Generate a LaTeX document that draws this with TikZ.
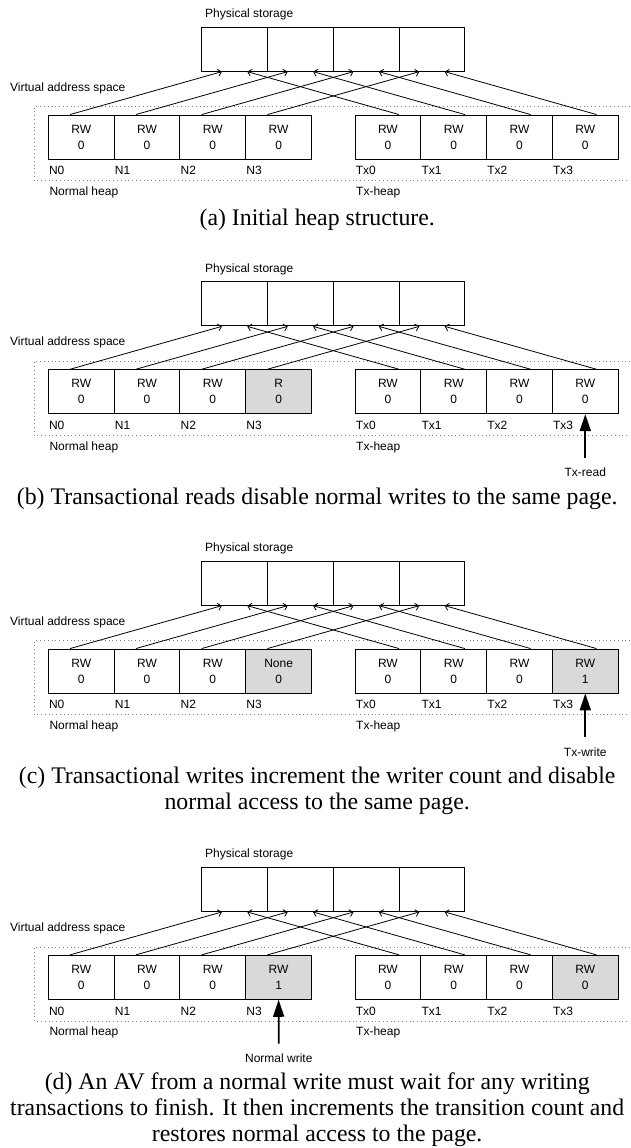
\documentclass[tikz,border=0pt]{standalone}
\usepackage{fontspec}
\setmainfont{Liberation Serif}
\newfontfamily\diagfont{Liberation Sans}
\usetikzlibrary{arrows.meta,calc}

\tikzset{
  heapcell/.style={draw, line width=0.9pt, minimum width=65.8pt, minimum height=44pt,
    inner sep=0pt, align=center, font={\diagfont\fontsize{12}{16}\selectfont}},
  tag/.style={inner sep=0pt, anchor=base west, font={\diagfont\fontsize{12}{14}\selectfont}},
  mapline/.style={line width=0.8pt, -{Straight Barb[length=3.5pt,width=7pt]}},
  accessarrow/.style={line width=1.8pt, -{Triangle[length=17pt,width=11pt]}},
  heapregion/.style={gray, line width=0.8pt, dash pattern=on 0.8pt off 3pt},
  figcaption/.style={inner sep=0pt, anchor=base, align=center, font={\fontsize{23.8}{26}\selectfont}},
}

% one heap picture: #1/#2/#3 = state, count, fill of N3; #4/#5/#6 = same for Tx3
\newcommand{\heappanel}[6]{%
  \foreach \i in {0,...,3}
    \node[heapcell] (p\i) at (234.6+65.8*\i,49.2) {};
  \node[tag] (phys) at (205,17.5) {Physical storage};
  \node[tag] (virt) at (10,91) {Virtual address space};
  \draw[heapregion] (630,106.7) -- (34.3,106.7) -- (34.3,180.7) -- (630,180.7);
  \foreach \i/\perm/\cnt/\cellfill in {0/RW/0/white,1/RW/0/white,2/RW/0/white,3/#1/#2/#3} {
    \node[heapcell, fill=\cellfill] (n\i) at (81.2+65.8*\i,137) {\perm\\\cnt};
    \node[tag] (nl\i) at ([shift={(1,15.3)}]n\i.south west) {N\i};
  }
  \foreach \i/\perm/\cnt/\cellfill in {0/RW/0/white,1/RW/0/white,2/RW/0/white,3/#4/#5/#6} {
    \node[heapcell, fill=\cellfill] (t\i) at (387.9+65.8*\i,137) {\perm\\\cnt};
    \node[tag] (tl\i) at ([shift={(1,15.3)}]t\i.south west) {Tx\i};
  }
  \node[tag] (nheap) at (49.3,195.5) {Normal heap};
  \node[tag] (theap) at (356,195.5) {Tx-heap};
  \foreach \i in {0,...,3} {
    \draw[mapline] ($(n\i.north west)!1/3!(n\i.north east)$) -- ($(p\i.south west)!0.31!(p\i.south east)$);
    \draw[mapline] ($(t\i.north west)!2/3!(t\i.north east)$) -- ($(p\i.south west)!0.69!(p\i.south east)$);
  }
}

\begin{document}
\begin{tikzpicture}[x=1pt, y=-1pt]
  \useasboundingbox (0,0) rectangle (630,1148);

  \heappanel{RW}{0}{white}{RW}{0}{white}
  \node[figcaption] (capa) at (317.2,225.3) {(a) Initial heap structure.};

  \begin{scope}[shift={(0,254.7)}]
    \heappanel{R}{0}{black!15}{RW}{0}{white}
    \node[tag, anchor=base] (txread) at (585.3,222) {Tx-read};
    \draw[accessarrow, shorten <=9.8pt] (txread.north) -- (t3.south);
    \node[figcaption] (capb) at (317.2,249.6) {(b) Transactional reads disable normal writes to the same page.};
  \end{scope}

  \begin{scope}[shift={(0,534)}]
    \heappanel{None}{0}{black!15}{RW}{1}{black!15}
    \node[tag, anchor=base] (txwrite) at (585.3,222) {Tx-write};
    \draw[accessarrow, shorten <=9.8pt] (txwrite.north) -- (t3.south);
    % base of a multi-line node is its last line
    \node[figcaption] (capc) at (317.2,275.6) {(c) Transactional writes increment the writer count and disable\\normal access to the same page.};
  \end{scope}

  \begin{scope}[shift={(0,840.3)}]
    \heappanel{RW}{1}{black!15}{RW}{0}{black!15}
    \node[tag, anchor=base] (nwrite) at (278.8,222) {Normal write};
    \draw[accessarrow, shorten <=9.8pt] (nwrite.north) -- (n3.south);
    \node[figcaption] (capd) at (317.2,301.6) {(d) An AV from a normal write must wait for any writing\\transactions to finish. It then increments the transition count and\\restores normal access to the page.};
  \end{scope}
\end{tikzpicture}
\end{document}
